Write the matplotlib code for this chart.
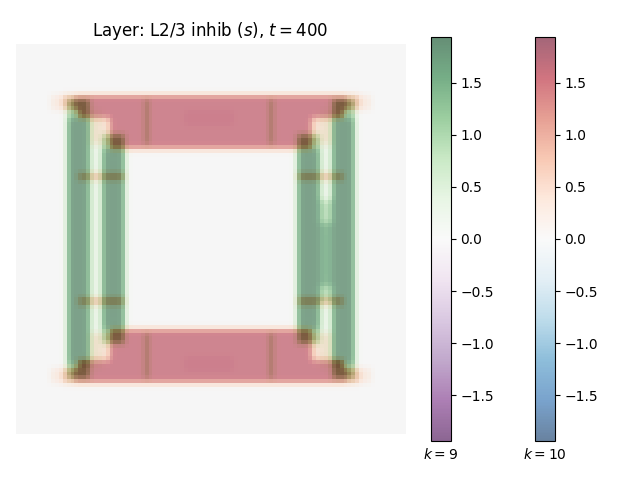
import numpy as np
import matplotlib
matplotlib.use("Agg")
from matplotlib import pyplot as plt
from matplotlib.colors import Normalize
from matplotlib.cm import ScalarMappable

N = 100          # grid cells per side
VLIM = 1.94      # colour limits

# fields, as (col0, col1, row0, row1, value) blocks
# k = 10 (RdBu_r): horizontal bars at top and bottom
red_blocks = [
    # top bar
    (15, 85, 13, 17, 1.6), (12, 15, 13, 17, 1.0), (85, 88, 13, 17, 1.0),
    (9, 12, 13, 17, 0.35), (88, 91, 13, 17, 0.35),
    (16, 84, 17, 19, 1.6),
    (24, 76, 19, 27, 1.6),
    (19, 24, 19, 26, 0.45), (76, 81, 19, 26, 0.45),
    # bottom bar
    (24, 76, 73, 81, 1.6),
    (19, 24, 74, 81, 0.45), (76, 81, 74, 81, 0.45),
    (16, 84, 81, 83, 1.6),
    (15, 85, 83, 87, 1.6), (12, 15, 83, 87, 1.0), (85, 88, 83, 87, 1.0),
    (9, 12, 83, 87, 0.35), (88, 91, 83, 87, 0.35),
    # short dashes across the green bars
    (16, 28, 33, 35, 0.9), (72, 84, 33, 35, 0.9),
    (16, 28, 65, 67, 0.9), (72, 84, 65, 67, 0.9),
]

# k = 9 (PRGn): vertical bars at left and right
green_blocks = [
    (13, 19, 14, 19, 1.25), (13, 19, 19, 82, 1.85), (13, 19, 82, 86, 1.25),
    (22, 28, 23, 27, 1.25), (22, 28, 27, 73, 1.85), (22, 28, 73, 77, 1.25),
    (19, 22, 17, 83, 0.25),
    (72, 78, 23, 27, 1.25), (72, 78, 27, 73, 1.85), (72, 78, 73, 77, 1.25),
    (81, 87, 14, 19, 1.25), (81, 87, 19, 82, 1.85), (81, 87, 82, 86, 1.25),
    (78, 81, 17, 83, 0.25), (78, 81, 40, 46, 0.9), (78, 81, 46, 62, 1.5),
    (78, 81, 62, 66, 0.9),
    # thin lines crossing the red bars
    (33, 34, 14, 26, 1.1), (65, 66, 14, 26, 1.1),
    (33, 34, 74, 86, 1.1), (65, 66, 74, 86, 1.1),
    # faint purple patch in the middle of the red bars
    (43, 56, 17, 21, -0.15), (43, 56, 80, 84, -0.15),
]


def build(blocks, sigma=0.8):
    f = np.zeros((N, N))
    for c0, c1, r0, r1, v in blocks:
        f[r0:r1, c0:c1] = v
    x = np.arange(-3, 4)
    ker = np.exp(-0.5 * (x / sigma) ** 2)
    ker /= ker.sum()
    f = np.apply_along_axis(lambda m: np.convolve(m, ker, mode='same'), 0, f)
    f = np.apply_along_axis(lambda m: np.convolve(m, ker, mode='same'), 1, f)
    return f


field9 = build(green_blocks)
field10 = build(red_blocks)

fig = plt.figure(figsize=(6.4, 4.8), dpi=100)
ax = fig.add_axes([15 / 640, 46 / 480, 391 / 640, 390 / 480])
norm = Normalize(-VLIM, VLIM)
ax.imshow(field9, cmap='PRGn', norm=norm, interpolation='nearest')
ax.imshow(field10, cmap='RdBu_r', norm=norm, alpha=0.5, interpolation='nearest')
ax.set_axis_off()
ax.set_title('Layer: L2/3 inhib ($s$), $t=400$')

cax1 = fig.add_axes([430.5 / 640, 39 / 480, 20 / 640, 404 / 480])
cax2 = fig.add_axes([534.5 / 640, 39 / 480, 20 / 640, 404 / 480])
cb1 = fig.colorbar(ScalarMappable(norm, 'PRGn'), cax=cax1, alpha=0.6)
cb2 = fig.colorbar(ScalarMappable(norm, 'RdBu_r'), cax=cax2, alpha=0.6)
for cb in (cb1, cb2):
    cb.solids.set_antialiased(True)
cb1.ax.set_xlabel('$k=9$')
cb2.ax.set_xlabel('$k=10$')

fig.savefig('out.png', dpi=100)
